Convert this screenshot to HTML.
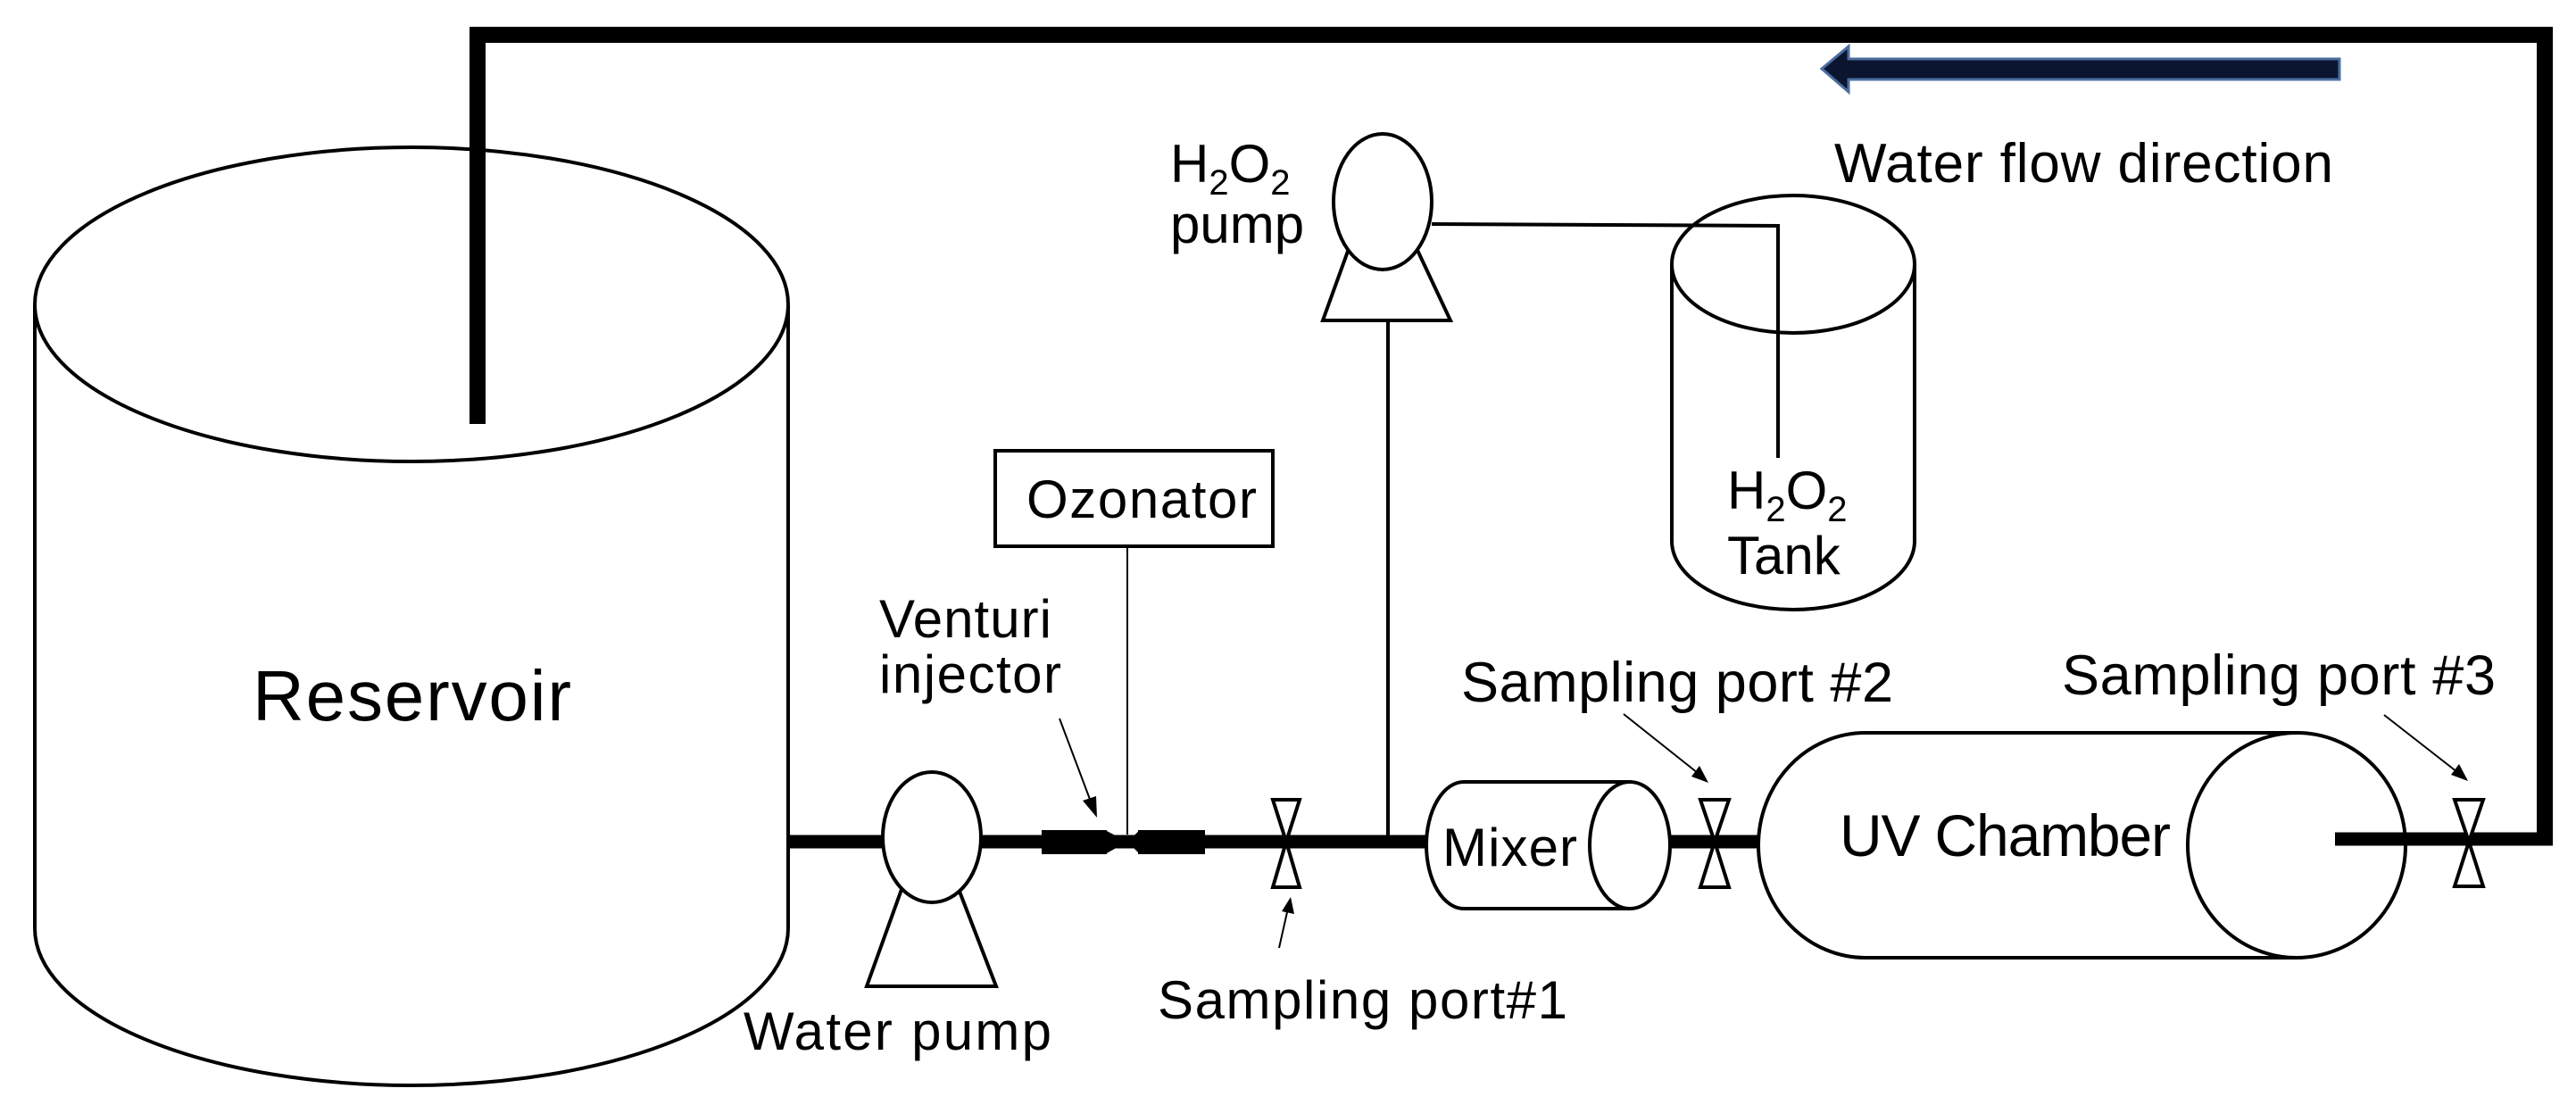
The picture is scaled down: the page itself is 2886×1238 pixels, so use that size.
<!DOCTYPE html>
<html><head><meta charset="utf-8"><style>
html,body{margin:0;padding:0;background:#fff;}
svg{display:block;}
text{font-family:"Liberation Sans",Arial,sans-serif;fill:#000;}
</style></head><body>
<svg width="2886" height="1238" viewBox="0 0 2886 1238" xmlns="http://www.w3.org/2000/svg">
<!-- reservoir -->
<path d="M39,341 L39,1040 A422,176 0 0 0 883,1040 L883,341" fill="#fff" stroke="#000" stroke-width="4"/>
<ellipse cx="461" cy="341" rx="422" ry="176" fill="none" stroke="#000" stroke-width="4"/>
<!-- top loop pipe -->
<polyline points="535,475 535,39 2851,39 2851,940" fill="none" stroke="#000" stroke-width="18"/>
<text x="283" y="807" font-size="80" textLength="357">Reservoir</text>
<!-- main pipe -->
<line x1="883" y1="943" x2="1600" y2="943" stroke="#000" stroke-width="15"/>
<line x1="1871" y1="943" x2="1972" y2="943" stroke="#000" stroke-width="15"/>
<!-- water pump -->
<polygon points="1012,991 1072,991 1116,1105 971,1105" fill="#fff" stroke="#000" stroke-width="4"/>
<ellipse cx="1044" cy="938" rx="55" ry="73" fill="#fff" stroke="#000" stroke-width="4"/>
<text x="833" y="1176" font-size="60" textLength="345">Water pump</text>
<!-- venturi -->
<rect x="1167" y="930" width="73" height="27" fill="#000"/>
<polygon points="1238,930 1263,943 1238,957" fill="#000"/>
<rect x="1275" y="930" width="75" height="27" fill="#000"/>
<polygon points="1277,930 1263,943 1277,957" fill="#000"/>
<!-- ozonator -->
<rect x="1115" y="505" width="311" height="107" fill="#fff" stroke="#000" stroke-width="4"/>
<text x="1150" y="580" font-size="60" textLength="258">Ozonator</text>
<line x1="1263" y1="612" x2="1263" y2="935" stroke="#000" stroke-width="2"/>
<text x="985" y="714" font-size="60" textLength="193">Venturi</text>
<text x="985" y="776" font-size="60" textLength="204">injector</text>
<line x1="1187" y1="805" x2="1222" y2="898" stroke="#000" stroke-width="2"/>
<polygon points="1229,916 1213,897 1228,892" fill="#000"/>
<!-- valve 1 -->
<g stroke="#000" stroke-width="4" fill="#fff">
<polygon points="1426,896 1456,896 1441,943"/>
<polygon points="1426,994 1456,994 1441,943"/>
</g>
<line x1="1433" y1="1062" x2="1442" y2="1022" stroke="#000" stroke-width="2"/>
<polygon points="1446,1005 1450,1024 1436,1021" fill="#000"/>
<text x="1297" y="1141" font-size="60" textLength="459">Sampling port#1</text>
<!-- H2O2 pump -->
<line x1="1555" y1="359" x2="1555" y2="943" stroke="#000" stroke-width="4"/>
<polygon points="1512,276 1586,276 1625,359 1482,359" fill="#fff" stroke="#000" stroke-width="4"/>
<ellipse cx="1549" cy="226" rx="55" ry="76" fill="#fff" stroke="#000" stroke-width="4"/>
<text x="1311" y="204" font-size="60">H<tspan font-size="40" dy="14">2</tspan><tspan dy="-14">O</tspan><tspan font-size="40" dy="14">2</tspan></text>
<text x="1311" y="272" font-size="60">pump</text>
<!-- tank -->
<path d="M1873,296 L1873,606 A136,77 0 0 0 2145,606 L2145,296" fill="#fff" stroke="#000" stroke-width="4"/>
<ellipse cx="2009" cy="296" rx="136" ry="77" fill="none" stroke="#000" stroke-width="4"/>
<polyline points="1604,251 1992,253 1992,513" fill="none" stroke="#000" stroke-width="4"/>
<text x="1935" y="570" font-size="60">H<tspan font-size="40" dy="14">2</tspan><tspan dy="-14">O</tspan><tspan font-size="40" dy="14">2</tspan></text>
<text x="1935" y="643" font-size="60">Tank</text>
<!-- mixer -->
<path d="M1640,876 L1826,876 L1826,1018 L1640,1018 A42,71 0 0 1 1640,876 Z" fill="#fff" stroke="#000" stroke-width="4"/>
<ellipse cx="1826" cy="947" rx="45" ry="71" fill="#fff" stroke="#000" stroke-width="4"/>
<text x="1616" y="970" font-size="60" textLength="151">Mixer</text>
<!-- valve 2 -->
<g stroke="#000" stroke-width="4" fill="#fff">
<polygon points="1905,896 1937,896 1921,943"/>
<polygon points="1905,994 1937,994 1921,943"/>
</g>
<line x1="1819" y1="800" x2="1902" y2="866" stroke="#000" stroke-width="2"/>
<polygon points="1914,877 1895,870 1904,858" fill="#000"/>
<text x="1637" y="786" font-size="63" textLength="484">Sampling port #2</text>
<!-- UV chamber -->
<path d="M2090,821 L2573,821 L2573,1073 L2090,1073 A120,126 0 0 1 2090,821 Z" fill="#fff" stroke="#000" stroke-width="4"/>
<ellipse cx="2573" cy="947" rx="122" ry="126" fill="#fff" stroke="#000" stroke-width="4"/>
<text x="2061" y="959" font-size="66" textLength="371">UV Chamber</text>
<line x1="2616" y1="940" x2="2860" y2="940" stroke="#000" stroke-width="15"/>
<!-- valve 3 -->
<g stroke="#000" stroke-width="4" fill="#fff">
<polygon points="2750,896 2782,896 2766,943"/>
<polygon points="2750,993 2782,993 2766,943"/>
</g>
<line x1="2671" y1="801" x2="2753" y2="865" stroke="#000" stroke-width="2"/>
<polygon points="2765,875 2746,868 2755,856" fill="#000"/>
<text x="2310" y="778" font-size="63" textLength="486">Sampling port #3</text>
<!-- flow arrow -->
<polygon points="2621,66 2071,66 2071,52 2041,77 2071,103 2071,89 2621,89" fill="#0b1530" stroke="#4a6f9f" stroke-width="3"/>
<text x="2055" y="204" font-size="62" textLength="559">Water flow direction</text>
</svg>
</body></html>
